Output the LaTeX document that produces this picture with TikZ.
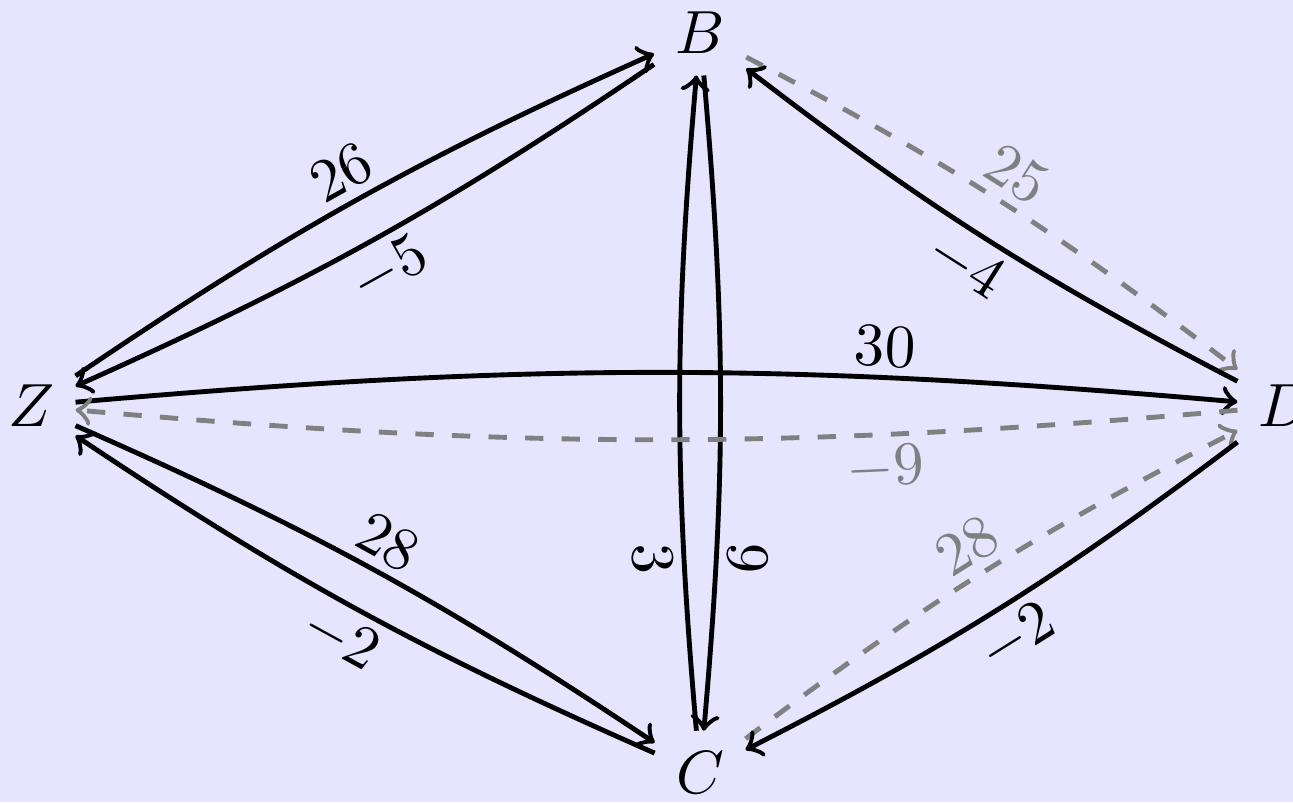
\documentclass[tikz,border=0pt]{standalone}
\usetikzlibrary{arrows}

\begin{document}
\begin{tikzpicture}[auto, >=to]
% Define styles
\tikzset{
  vertex/.style={inner sep=3.33pt},
  edge/.style={thick,->,bend left=5},
  lightedge/.style={edge,dashed,gray},
  weight/.style={sloped,inner sep=1.5pt},
  backweight/.style={weight,swap}
}

% Background
\clip (-0.179,-2.283) rectangle (7.275,2.341);
\fill [blue!10] (-0.179,-2.283) rectangle (7.275,2.341);

% Vertices
\node (Z) [vertex] at (0,0) {$Z$};
\node (B) [vertex] at (3.857,2.150) {$B$};
\node (C) [vertex] at (3.857,-2.116) {$C$};
\node (D) [vertex] at (7.229,0) {$D$};

% Upper left pair
\draw [edge] (Z) to node [weight] {$26$} (B);
\draw [edge] (B) to node [backweight] {$-5$} (Z);

% Lower left pair
\draw [edge] (Z) to node [weight] {$28$} (C);
\draw [edge] (C) to node [backweight] {$-2$} (Z);

% Vertical pair
\draw [edge] (B) to node [backweight, pos=0.75] {$6$} (C);
\draw [edge] (C) to node [backweight, pos=0.25] {$3$} (B);

% Horizontal pair
\draw [edge] (Z) to node [weight, pos=0.71] {$30$} (D);
\draw [lightedge] (D) to node [backweight, pos=0.29] {$-9$} (Z);

% Right side
\draw [lightedge] (B) to node [weight] {$25$} (D);
\draw [edge] (D) to node [backweight] {$-4$} (B);
\draw [lightedge] (C) to node [weight] {$28$} (D);
\draw [edge] (D) to node [backweight] {$-2$} (C);

\end{tikzpicture}
\end{document}
